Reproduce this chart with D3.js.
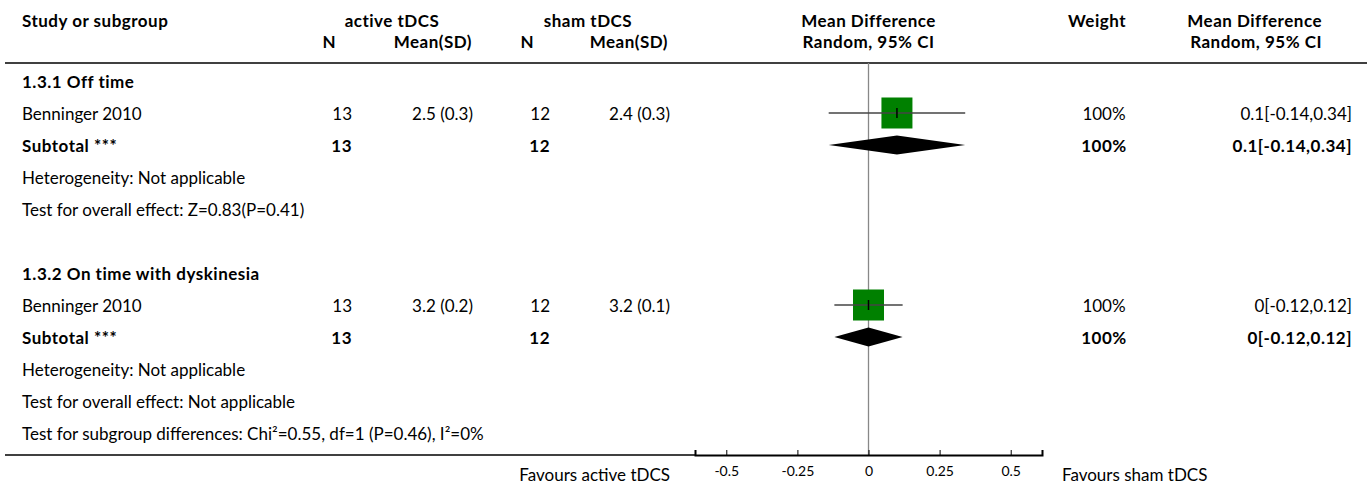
<!DOCTYPE html>
<html>
<head>
<meta charset="utf-8">
<script src="https://cdn.jsdelivr.net/npm/d3@7"></script>
<style>
	body { margin: 0; background: #fff; }
	svg { display: block; font-family: Lato, "Noto Sans", sans-serif; font-size: 17px; fill: #000; }
	.b { font-weight: bold; letter-spacing: 0.5px; }
</style>
</head>
<body>
<div class="chart"></div>
<script>
// group titles, study rows and subtotals
const groups = ["1.3.1 Off time", "1.3.2 On time with dyskinesia"];
const studyNames = ["Benninger 2010", "Benninger 2010"];
const activeN = [13, 13];
const activeMean = ["2.5 (0.3)", "3.2 (0.2)"];
const shamN = [12, 12];
const shamMean = ["2.4 (0.3)", "3.2 (0.1)"];
const md = [0.1, 0];
const ciLow = [-0.14, -0.12];
const ciHigh = [0.34, 0.12];
const weights = [100, 100];
const ciText = ["0.1[-0.14,0.34]", "0[-0.12,0.12]"];
const subN1 = [13, 13];
const subN2 = [12, 12];
const heterogeneity = ["Heterogeneity: Not applicable", "Heterogeneity: Not applicable"];
const overallEffect = ["Test for overall effect: Z=0.83(P=0.41)", "Test for overall effect: Not applicable"];
const subgroupTest = "Test for subgroup differences: Chi\u00b2=0.55, df=1 (P=0.46), I\u00b2=0%";
const ticks = [-0.5, -0.25, 0, 0.25, 0.5];
const favours = ["Favours active tDCS", "Favours sham tDCS"];

let width = 1370, height = 484;

let svg = d3.select(".chart")
	.append("svg")
	.attr("width", width)
	.attr("height", height);

let x = d3.scaleLinear().domain([-0.61, 0.61]).range([695, 1042]);
let box = d3.scaleSqrt().domain([0, 100]).range([0, 31]);

const rowH = 32, firstRow = 82;
const rowY = i => firstRow + i * rowH;

function txt(xp, yp, s, anchor, bold) {
	return svg.append("text")
		.attr("x", xp)
		.attr("y", yp)
		.attr("dy", "0.35em")
		.attr("text-anchor", anchor || "start")
		.attr("class", bold ? "b" : null)
		.text(s);
}

// header
txt(22, 21, "Study or subgroup", "start", true);
txt(392, 21, "active tDCS", "middle", true);
txt(588, 21, "sham tDCS", "middle", true);
txt(x(0), 21, "Mean Difference", "middle", true);
txt(1097, 21, "Weight", "middle", true);
txt(1322, 21, "Mean Difference", "end", true);
txt(336, 42, "N", "end", true);
txt(472, 42, "Mean(SD)", "end", true);
txt(534, 42, "N", "end", true);
txt(668, 42, "Mean(SD)", "end", true);
txt(x(0), 42, "Random, 95% CI", "middle", true);
txt(1322, 42, "Random, 95% CI", "end", true);

svg.append("line")
	.attr("x1", 5).attr("x2", 1367)
	.attr("y1", 63).attr("y2", 63)
	.attr("stroke", "#000").attr("stroke-width", 1.5);

// zero line
svg.append("line")
	.attr("x1", x(0)).attr("x2", x(0))
	.attr("y1", 63).attr("y2", 455)
	.attr("stroke", "#888").attr("stroke-width", 1.3);

groups.forEach(function (g, i) {
	let base = i * 6;
	let ys = rowY(base + 1) - 1, yt = rowY(base + 2) - 1;

	txt(22, rowY(base), g, "start", true);

	// study row
	txt(22, rowY(base + 1), studyNames[i]);
	txt(352, rowY(base + 1), activeN[i], "end");
	txt(473, rowY(base + 1), activeMean[i], "end");
	txt(550, rowY(base + 1), shamN[i], "end");
	txt(670, rowY(base + 1), shamMean[i], "end");
	txt(1104, rowY(base + 1), weights[i] + "%", "middle");
	txt(1352, rowY(base + 1), ciText[i], "end");

	let s = box(weights[i]);
	svg.append("rect")
		.attr("x", x(md[i]) - s / 2)
		.attr("y", ys - s / 2)
		.attr("width", s)
		.attr("height", s)
		.attr("fill", "#008000");
	svg.append("line")
		.attr("x1", x(ciLow[i])).attr("x2", x(ciHigh[i]))
		.attr("y1", ys).attr("y2", ys)
		.attr("stroke", "#444").attr("stroke-width", 1.5);
	svg.append("line")
		.attr("x1", x(md[i])).attr("x2", x(md[i]))
		.attr("y1", ys - 5).attr("y2", ys + 5)
		.attr("stroke", "#000").attr("stroke-width", 1.5);

	// subtotal row
	txt(22, rowY(base + 2), "Subtotal ***", "start", true);
	txt(352, rowY(base + 2), subN1[i], "end", true);
	txt(550, rowY(base + 2), subN2[i], "end", true);
	txt(1104, rowY(base + 2), weights[i] + "%", "middle", true);
	txt(1352, rowY(base + 2), ciText[i], "end", true);

	let h = 9.5;
	svg.append("path")
		.attr("d", d3.line()([
			[x(ciLow[i]), yt], [x(md[i]), yt - h],
			[x(ciHigh[i]), yt], [x(md[i]), yt + h]
		]) + "Z")
		.attr("fill", "#000");

	txt(22, rowY(base + 3), heterogeneity[i]);
	txt(22, rowY(base + 4), overallEffect[i]);
});

txt(22, rowY(11), subgroupTest);

// bottom rule and axis
svg.append("line")
	.attr("x1", 5).attr("x2", x.range()[0])
	.attr("y1", 455).attr("y2", 455)
	.attr("stroke", "#000").attr("stroke-width", 1.5);

let axis = svg.append("g")
	.attr("transform", "translate(0,455)")
	.call(d3.axisBottom(x)
		.tickValues(ticks)
		.tickSize(-5)
		.tickPadding(11)
		.tickFormat(d => String(d)));
axis.select(".domain").attr("stroke-width", 2);
axis.selectAll("text")
	.style("font-family", "Lato, sans-serif")
	.style("font-size", "14px")
	.attr("fill", "#000");

svg.append("text")
	.attr("x", x.range()[0] - 25).attr("y", 475).attr("dy", "0.35em")
	.attr("text-anchor", "end")
	.text(favours[0]);
svg.append("text")
	.attr("x", x.range()[1] + 20).attr("y", 475).attr("dy", "0.35em")
	.text(favours[1]);
</script>
</body>
</html>
